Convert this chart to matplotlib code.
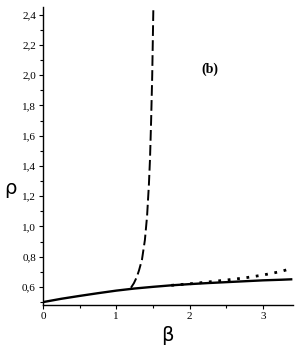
import matplotlib
matplotlib.use("Agg")
import matplotlib.pyplot as plt

# Solid curve
beta_solid = [0.0, 0.25, 0.5, 0.75, 1.0, 1.25, 1.5, 1.75, 2.0, 2.25, 2.5, 2.75, 3.0, 3.25, 3.4]
rho_solid = [0.500, 0.522, 0.541, 0.559, 0.576, 0.590, 0.601, 0.611, 0.619, 0.626, 0.632, 0.638, 0.644, 0.648, 0.651]

# Dotted curve (branches off the solid one)
beta_dot = [1.75, 2.0, 2.25, 2.5, 2.75, 3.0, 3.25, 3.4]
rho_dot = [0.611, 0.621, 0.633, 0.646, 0.660, 0.679, 0.703, 0.725]

# Dashed curve (diverging branch)
beta_dash = [1.20, 1.24, 1.28, 1.31, 1.35, 1.39, 1.42, 1.445, 1.46, 1.475, 1.49, 1.505]
rho_dash = [0.595, 0.625, 0.666, 0.71, 0.78, 0.91, 1.07, 1.28, 1.45, 1.70, 2.00, 2.43]

xticks = [0, 1, 2, 3]
xtick_labels = ["0", "1", "2", "3"]
yticks = [0.6, 0.8, 1.0, 1.2, 1.4, 1.6, 1.8, 2.0, 2.2, 2.4]
ytick_labels = ["0,6", "0,8", "1,0", "1,2", "1,4", "1,6", "1,8", "2,0", "2,2", "2,4"]

fig = plt.figure(figsize=(3.0, 3.54), dpi=100)
ax = fig.add_axes([0.143, 0.138, 0.834, 0.842])

ax.plot(beta_solid, rho_solid, color="black", lw=1.7, solid_capstyle="butt")
ax.plot(beta_dot, rho_dot, color="black", lw=2.0, linestyle=(0, (1, 2.4)))
ax.plot(beta_dash, rho_dash, color="black", lw=1.4, linestyle=(0, (5.5, 2.2)))

ax.set_xlim(0, 3.41)
ax.set_ylim(0.48, 2.45)

ax.spines["top"].set_visible(False)
ax.spines["right"].set_visible(False)
ax.spines["left"].set_linewidth(1.0)
ax.spines["bottom"].set_linewidth(1.0)

ax.set_xticks(xticks)
ax.set_xticklabels(xtick_labels, family="Liberation Serif", fontsize=8)
ax.set_yticks(yticks)
ax.set_yticklabels(ytick_labels, family="Liberation Serif", fontsize=8)
ax.set_xticks([0.5, 1.5, 2.5], minor=True)
ax.set_yticks([0.5, 0.7, 0.9, 1.1, 1.3, 1.5, 1.7, 1.9, 2.1, 2.3], minor=True)
ax.tick_params(which="major", direction="out", length=3, width=0.8, pad=2)
ax.tick_params(which="minor", direction="out", length=2, width=0.8)

ax.set_ylabel("ρ", rotation=0, fontsize=14, family="DejaVu Sans")
ax.yaxis.set_label_coords(-0.13, 0.36)
ax.set_xlabel("β", fontsize=14, family="DejaVu Sans")
ax.xaxis.set_label_coords(0.496, -0.07)

ax.text(2.28, 2.04, "(b)", fontsize=10, fontweight="bold", family="Liberation Serif",
        ha="center", va="center")

fig.savefig("out.png", dpi=100)
